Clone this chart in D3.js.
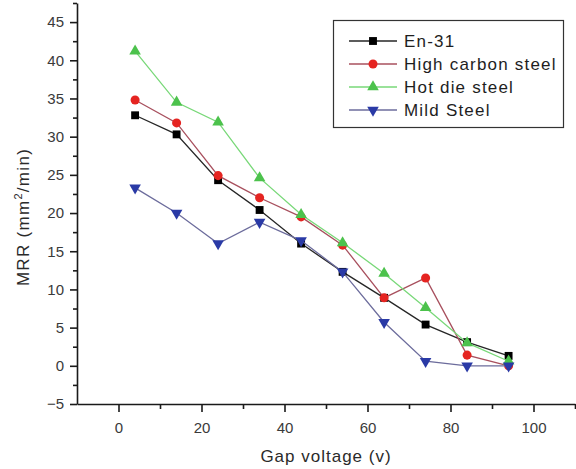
<!DOCTYPE html>
<html>
<head>
<meta charset="utf-8">
<script src="https://cdn.jsdelivr.net/npm/d3@7/dist/d3.min.js"></script>
<style>
  html, body { margin: 0; padding: 0; background: #fff; }
  svg { display: block; font-family: "Liberation Sans", Arial, Helvetica, sans-serif; }
</style>
</head>
<body>
<svg id="chart" width="576" height="469"></svg>
<script>
// Gap voltage settings (v)
const gapVoltage = [4, 14, 24, 34, 44, 54, 64, 74, 84, 94];

// Material removal rate (mm^2/min) for each work material
const en31       = [32.8, 30.3, 24.3, 20.4, 16.0, 12.3, 8.9, 5.4, 3.1, 1.3];
const highCarbon = [34.8, 31.8, 24.9, 22.0, 19.5, 15.8, 8.9, 11.5, 1.4, 0.0];
const hotDie     = [41.2, 34.5, 31.9, 24.6, 19.8, 16.1, 12.1, 7.6, 3.0, 0.6];
const mildSteel  = [23.3, 20.0, 16.0, 18.8, 16.4, 12.3, 5.7, 0.6, 0.0, 0.0];

const seriesNames = ["En-31", "High carbon steel", "Hot die steel", "Mild Steel"];

// Axis ticks
const xMajorTicks = [0, 20, 40, 60, 80, 100];
const xMinorTicks = [10, 30, 50, 70, 90, 110];
const yMajorTicks = [-5, 0, 5, 10, 15, 20, 25, 30, 35, 40, 45];
const yMinorTicks = [-2.5, 2.5, 7.5, 12.5, 17.5, 22.5, 27.5, 32.5, 37.5, 42.5, 47.5];

const svg = d3.select("#chart");

const x = d3.scaleLinear().domain([-10, 110]).range([77, 575]);
const y = d3.scaleLinear().domain([-5, 47.5]).range([404, 3]);

const styles = [
  { line: "#262626", fill: "#000000", symbol: d3.symbolSquare,   size: 62, rotate: 0 },
  { line: "#a8505e", fill: "#e52421", symbol: d3.symbolCircle,   size: 64, rotate: 0 },
  { line: "#78d878", fill: "#4cc24c", symbol: d3.symbolTriangle, size: 58, rotate: 0 },
  { line: "#6c6c9c", fill: "#2a3aa6", symbol: d3.symbolTriangle, size: 58, rotate: 180 }
];

const data = [en31, highCarbon, hotDie, mildSteel].map((vals, i) => ({
  name: seriesNames[i],
  style: styles[i],
  points: vals.map((v, j) => ({ x: gapVoltage[j], y: v }))
}));

// Axes
const axisColor = "#1a1a1a";
function styleAxis(g) {
  g.selectAll("path.domain").attr("stroke", axisColor).attr("stroke-width", 1.6);
  g.selectAll(".tick line").attr("stroke", axisColor).attr("stroke-width", 1.6);
  g.selectAll(".tick text").attr("fill", "#3a3a3a").attr("font-size", 15);
}

const xAxis = svg.append("g")
  .attr("transform", `translate(0,${y(-5)})`)
  .call(d3.axisBottom(x).tickValues(xMajorTicks).tickSize(8).tickSizeOuter(0).tickPadding(10));
styleAxis(xAxis);

const xMinor = svg.append("g")
  .attr("transform", `translate(0,${y(-5)})`)
  .call(d3.axisBottom(x).tickValues(xMinorTicks).tickSize(5).tickFormat(""));
styleAxis(xMinor);
xMinor.select("path.domain").remove();

const yAxis = svg.append("g")
  .attr("transform", `translate(${x(-10)},0)`)
  .call(d3.axisLeft(y).tickValues(yMajorTicks).tickSize(7).tickSizeOuter(0).tickPadding(6));
styleAxis(yAxis);

const yMinor = svg.append("g")
  .attr("transform", `translate(${x(-10)},0)`)
  .call(d3.axisLeft(y).tickValues(yMinorTicks).tickSize(4).tickFormat(""));
styleAxis(yMinor);
yMinor.select("path.domain").remove();

// Axis titles
svg.append("text")
  .attr("x", 326).attr("y", 462)
  .attr("text-anchor", "middle")
  .attr("font-size", 17).attr("letter-spacing", 1)
  .attr("fill", "#2a2a2a")
  .text("Gap voltage (v)");

const yTitle = svg.append("text")
  .attr("transform", "translate(29,217) rotate(-90)")
  .attr("text-anchor", "middle")
  .attr("font-size", 17).attr("letter-spacing", 1.3)
  .attr("fill", "#2a2a2a");
yTitle.append("tspan").text("MRR (mm");
yTitle.append("tspan").attr("font-size", 11).attr("dy", -7).text("2");
yTitle.append("tspan").attr("dy", 7).text("/min)");

// Series lines and markers
const line = d3.line().x(d => x(d.x)).y(d => y(d.y));

data.forEach(s => {
  const g = svg.append("g");
  g.append("path")
    .datum(s.points)
    .attr("d", line)
    .attr("fill", "none")
    .attr("stroke", s.style.line)
    .attr("stroke-width", 1.3);
  g.selectAll("path.marker")
    .data(s.points)
    .join("path")
    .attr("class", "marker")
    .attr("d", d3.symbol().type(s.style.symbol).size(s.style.size))
    .attr("transform", d => `translate(${x(d.x)},${y(d.y)}) rotate(${s.style.rotate})`)
    .attr("fill", s.style.fill);
});

// Legend
const legend = svg.append("g");
legend.append("rect")
  .attr("x", 333.5).attr("y", 20.5)
  .attr("width", 230).attr("height", 107)
  .attr("fill", "#fff")
  .attr("stroke", "#333")
  .attr("stroke-width", 1.2);

const legendRows = [41, 64, 87, 110];
data.forEach((s, i) => {
  const cy = legendRows[i];
  legend.append("line")
    .attr("x1", 349).attr("x2", 397)
    .attr("y1", cy).attr("y2", cy)
    .attr("stroke", s.style.line)
    .attr("stroke-width", 1.3);
  legend.append("path")
    .attr("d", d3.symbol().type(s.style.symbol).size(s.style.size)())
    .attr("transform", `translate(373,${cy}) rotate(${s.style.rotate})`)
    .attr("fill", s.style.fill);
  legend.append("text")
    .attr("x", 404).attr("y", cy + 6)
    .attr("font-size", 17).attr("letter-spacing", 1.2)
    .attr("fill", "#1e1e1e")
    .text(s.name);
});
</script>
</body>
</html>
